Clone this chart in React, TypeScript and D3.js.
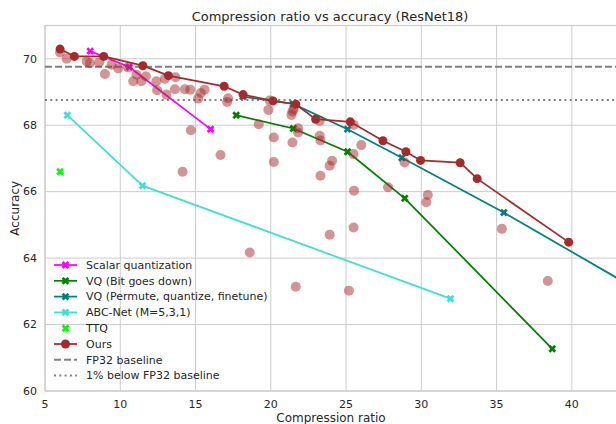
import React, { useRef, useEffect } from 'react';
import * as d3 from 'd3';

// series, [compression ratio, top-1 accuracy]
const scalarQuant = [[8.0, 70.23], [10.6, 69.75], [16.0, 67.88]];
const vqBitGoesDown = [[17.7, 68.3], [21.5, 67.9], [25.1, 67.2], [28.9, 65.8], [38.7, 61.27]];
const vqPermute = [[18.15, 68.86], [21.48, 68.64], [25.1, 67.88], [28.71, 67.02], [35.48, 65.37], [50, 61.57]];
const abcNet = [[6.48, 68.3], [11.48, 66.18], [31.94, 62.78]];
const ttq = [[6.0, 66.6]];
const ours = [
  [6.0, 70.29], [6.95, 70.07], [8.9, 70.07], [11.5, 69.79], [13.2, 69.49], [16.9, 69.17],
  [18.16, 68.92], [20.15, 68.73], [21.66, 68.63], [22.98, 68.18], [25.28, 68.1], [27.45, 67.53],
  [28.98, 67.2], [29.95, 66.94], [32.58, 66.87], [33.71, 66.39], [39.79, 64.48],
];
const oursSweep = [
  [6.0, 70.19], [6.44, 70.0], [7.77, 69.92], [7.99, 69.87], [8.6, 69.89], [8.98, 69.54], [9.42, 69.82],
  [9.86, 69.71], [10.5, 69.74], [10.86, 69.32], [11.08, 69.52], [11.4, 69.32], [11.7, 69.47], [12.4, 69.32],
  [12.45, 69.05], [12.96, 69.4], [13.07, 68.92], [13.63, 69.08], [13.67, 69.44], [14.29, 69.08], [14.65, 69.07],
  [15.17, 68.8], [15.35, 68.97], [15.6, 69.07], [14.69, 67.85], [17.16, 68.81], [17.1, 68.7], [16.66, 67.1],
  [14.14, 66.6], [19.2, 68.03], [19.84, 68.46], [19.93, 68.74], [20.2, 67.63], [20.2, 66.89], [21.37, 68.31],
  [21.44, 68.41], [21.52, 68.48], [21.44, 67.48], [21.81, 67.91], [21.81, 67.78], [23.25, 68.13], [23.25, 67.68],
  [23.3, 67.54], [23.3, 66.48], [23.91, 66.78], [24.07, 66.93], [25.5, 68.01], [26.01, 67.4], [25.5, 67.13],
  [25.53, 66.03], [27.79, 66.13], [28.89, 66.88], [30.43, 65.9], [30.33, 65.68], [25.5, 64.92], [35.35, 64.88],
  [18.6, 64.17], [23.91, 64.7], [21.66, 63.14], [25.19, 63.02], [38.4, 63.31],
];
const fp32Baseline = 69.76;
const xTicks = [5, 10, 15, 20, 25, 30, 35, 40];
const yTicks = [60, 62, 64, 66, 68, 70];

const FONT = 'DejaVu Sans, sans-serif';
const TEXT = '#262626';
const GRID = '#cccccc';

const App = () => {
  const svgRef = useRef<SVGSVGElement>(null);

  useEffect(() => {
    const width = 616;
    const height = 424;
    const left = 45, right = 617, top = 25.5, bottom = 391;

    const svg = d3.select(svgRef.current);
    svg.selectAll('*').remove();

    const x = d3.scaleLinear().domain([5, 43]).range([left, right]);
    const y = d3.scaleLinear().domain([60, 71]).range([bottom, top]);

    svg.append('rect').attr('width', width).attr('height', height).attr('fill', 'white');

    svg.append('clipPath').attr('id', 'plot-clip')
      .append('rect').attr('x', left).attr('y', top).attr('width', right - left).attr('height', bottom - top);

    // grid
    const grid = svg.append('g');
    grid.selectAll('.vg').data(xTicks).enter().append('line')
      .attr('x1', d => x(d)).attr('x2', d => x(d)).attr('y1', top).attr('y2', bottom)
      .attr('stroke', GRID).attr('stroke-width', 1);
    grid.selectAll('.hg').data(yTicks).enter().append('line')
      .attr('x1', left).attr('x2', right).attr('y1', d => y(d)).attr('y2', d => y(d))
      .attr('stroke', GRID).attr('stroke-width', 1);
    grid.append('rect').attr('x', left).attr('y', top).attr('width', right - left).attr('height', bottom - top)
      .attr('fill', 'none').attr('stroke', GRID).attr('stroke-width', 1.25);

    // tick labels
    svg.selectAll('.xt').data(xTicks).enter().append('text')
      .attr('x', d => x(d)).attr('y', 407.5).attr('text-anchor', 'middle')
      .attr('font-family', FONT).attr('font-size', 11).attr('fill', TEXT).text(d => d);
    svg.selectAll('.yt').data(yTicks).enter().append('text')
      .attr('x', 37).attr('y', d => y(d)).attr('dy', '0.35em').attr('text-anchor', 'end')
      .attr('font-family', FONT).attr('font-size', 11).attr('fill', TEXT).text(d => d);

    svg.append('text').attr('x', (left + right) / 2).attr('y', 421.5).attr('text-anchor', 'middle')
      .attr('font-family', FONT).attr('font-size', 12).attr('fill', TEXT).text('Compression ratio');
    svg.append('text').attr('transform', `translate(19, ${(top + bottom) / 2}) rotate(-90)`)
      .attr('text-anchor', 'middle')
      .attr('font-family', FONT).attr('font-size', 12).attr('fill', TEXT).text('Accuracy');
    svg.append('text').attr('x', 330).attr('y', 21).attr('text-anchor', 'middle')
      .attr('font-family', FONT).attr('font-size', 13).attr('fill', TEXT)
      .text('Compression ratio vs accuracy (ResNet18)');

    const plot = svg.append('g').attr('clip-path', 'url(#plot-clip)');

    // baselines
    plot.append('line').attr('x1', left).attr('x2', right)
      .attr('y1', y(fp32Baseline)).attr('y2', y(fp32Baseline))
      .attr('stroke', '#808080').attr('stroke-width', 2).attr('stroke-dasharray', '7,3');
    plot.append('line').attr('x1', left).attr('x2', right)
      .attr('y1', y(fp32Baseline - 1)).attr('y2', y(fp32Baseline - 1))
      .attr('stroke', '#808080').attr('stroke-width', 2).attr('stroke-dasharray', '2,3.3');

    const line = d3.line<number[]>().x(d => x(d[0])).y(d => y(d[1]));
    const xMark = d3.symbol().type(d3.symbolCross).size(38);

    const series = [
      { data: scalarQuant, color: '#ff00ff' },
      { data: vqBitGoesDown, color: '#008000' },
      { data: vqPermute, color: '#008080' },
      { data: abcNet, color: '#40e0d0' },
    ];
    series.forEach(s => {
      plot.append('path').attr('d', line(s.data)).attr('fill', 'none')
        .attr('stroke', s.color).attr('stroke-width', 1.75);
      plot.selectAll(null).data(s.data).enter().append('path')
        .attr('d', xMark).attr('fill', s.color)
        .attr('transform', d => `translate(${x(d[0])},${y(d[1])}) rotate(45)`);
    });
    plot.selectAll(null).data(ttq).enter().append('path')
      .attr('d', xMark).attr('fill', '#00ff00')
      .attr('transform', d => `translate(${x(d[0])},${y(d[1])}) rotate(45)`);

    plot.append('path').attr('d', line(ours)).attr('fill', 'none')
      .attr('stroke', '#a52a2a').attr('stroke-width', 1.75);
    plot.selectAll(null).data(ours).enter().append('circle')
      .attr('cx', d => x(d[0])).attr('cy', d => y(d[1])).attr('r', 4.5).attr('fill', '#a52a2a');

    plot.selectAll(null).data(oursSweep).enter().append('circle')
      .attr('cx', d => x(d[0])).attr('cy', d => y(d[1])).attr('r', 5)
      .attr('fill', '#a52a2a').attr('fill-opacity', 0.5);

    // legend
    const legendItems = [
      { label: 'Scalar quantization', color: '#ff00ff', kind: 'x' },
      { label: 'VQ (Bit goes down)', color: '#008000', kind: 'x' },
      { label: 'VQ (Permute, quantize, finetune)', color: '#008080', kind: 'x' },
      { label: 'ABC-Net (M=5,3,1)', color: '#40e0d0', kind: 'x' },
      { label: 'TTQ', color: '#00ff00', kind: 'xonly' },
      { label: 'Ours', color: '#a52a2a', kind: 'o' },
      { label: 'FP32 baseline', color: '#808080', kind: 'dash' },
      { label: '1% below FP32 baseline', color: '#808080', kind: 'dot' },
    ];
    const legend = svg.append('g');
    legendItems.forEach((item, i) => {
      const ly = 265 + i * 15.8;
      const g = legend.append('g').attr('transform', `translate(0, ${ly})`);
      if (item.kind !== 'xonly') {
        const ln = g.append('line').attr('x1', 54).attr('x2', 77).attr('y1', 0).attr('y2', 0)
          .attr('stroke', item.color).attr('stroke-width', item.kind === 'dash' || item.kind === 'dot' ? 2 : 1.75);
        if (item.kind === 'dash') ln.attr('stroke-dasharray', '7,3');
        if (item.kind === 'dot') ln.attr('stroke-dasharray', '2,3.3');
      }
      if (item.kind === 'x' || item.kind === 'xonly') {
        g.append('path').attr('d', xMark).attr('fill', item.color).attr('transform', 'translate(65.5,0) rotate(45)');
      }
      if (item.kind === 'o') {
        g.append('circle').attr('cx', 65.5).attr('cy', 0).attr('r', 4.5).attr('fill', item.color);
      }
      g.append('text').attr('x', 86).attr('y', 0).attr('dy', '0.35em')
        .attr('font-family', FONT).attr('font-size', 11).attr('fill', TEXT).text(item.label);
    });
  }, []);

  return (
    <svg ref={svgRef} width={616} height={424} style={{ position: 'absolute', left: 0, top: 0 }}></svg>
  );
};

export default App;
